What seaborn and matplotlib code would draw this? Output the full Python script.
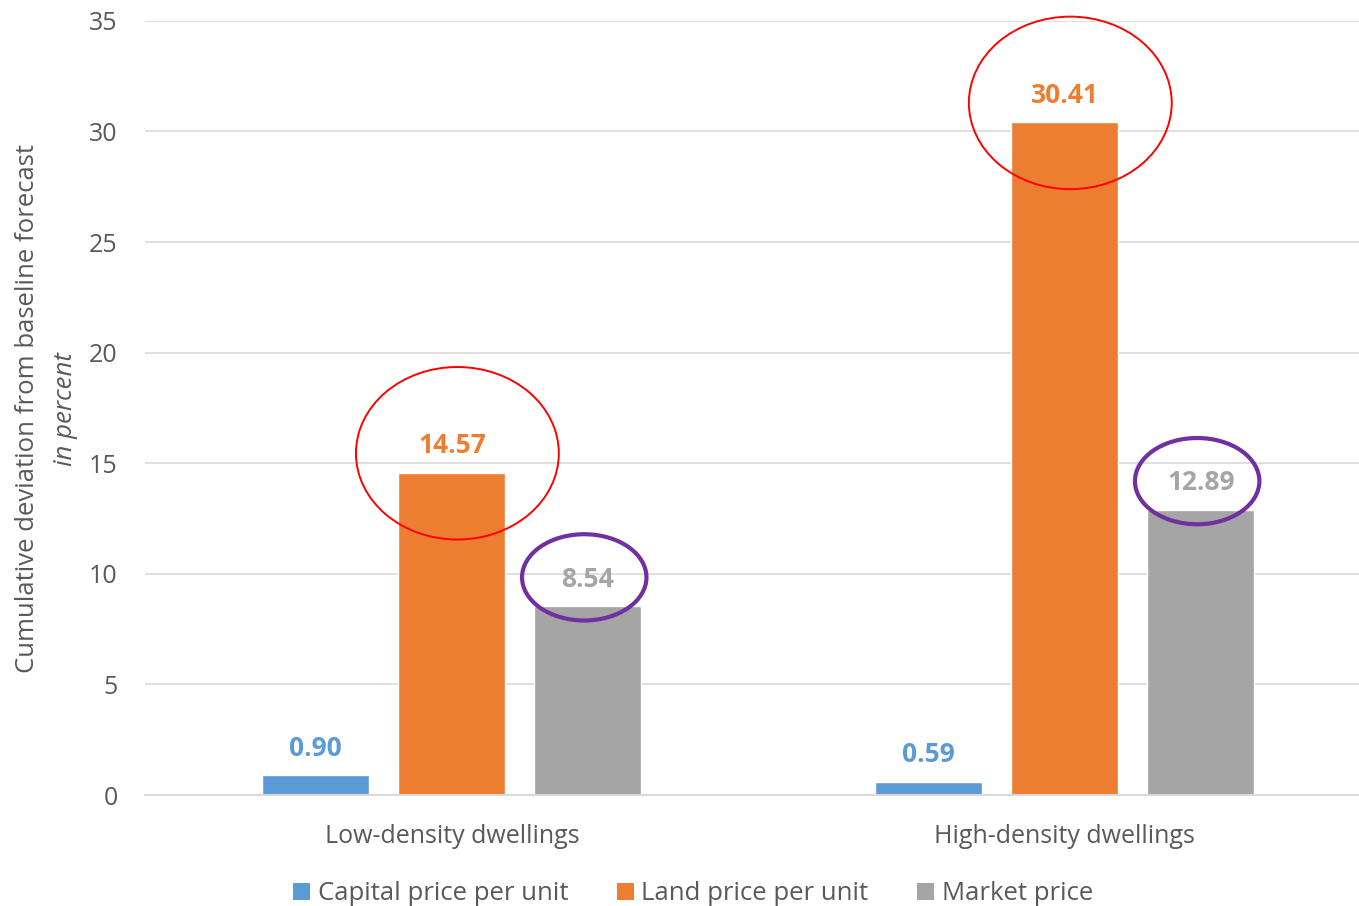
import matplotlib
matplotlib.use("Agg")
import matplotlib.pyplot as plt
from matplotlib.patches import Ellipse, Patch
import seaborn as sns
import pandas as pd

categories = ["Low-density dwellings", "High-density dwellings"]
series = ["Capital price per unit", "Land price per unit", "Market price"]
capital = [0.90, 0.59]
land = [14.57, 30.41]
market = [8.54, 12.89]
y_ticks = [0, 5, 10, 15, 20, 25, 30, 35]

colors = ["#5B9BD5", "#ED7D31", "#A5A5A5"]
text_color = "#595959"
grid_color = "#D9D9D9"

rows = []
for name, vals in zip(series, [capital, land, market]):
    for cat, v in zip(categories, vals):
        rows.append({"category": cat, "series": name, "value": v})
df = pd.DataFrame(rows)

sns.set_theme(style="white")
plt.rcParams["font.family"] = ["Open Sans", "DejaVu Sans"]

fig = plt.figure(figsize=(13.59, 9.06), dpi=100)
ax = fig.add_axes([0.107, 0.1225, 0.902, 0.8545])

sns.barplot(data=df, x="category", y="value", hue="series", order=categories,
            hue_order=series, palette=colors, width=0.666, gap=0.213,
            saturation=1, legend=False, ax=ax, errorbar=None)

ax.set_ylim(0, 35)
ax.set_xlim(-0.5, 1.5)
ax.set_yticks(y_ticks)
ax.yaxis.grid(True, color=grid_color, linewidth=1.2)
ax.set_axisbelow(True)
for s in ["top", "right", "left"]:
    ax.spines[s].set_visible(False)
ax.spines["bottom"].set_color(grid_color)
ax.spines["bottom"].set_linewidth(1.5)
ax.tick_params(axis="both", length=0, labelsize=18, colors=text_color)
ax.tick_params(axis="y", pad=20)
ax.tick_params(axis="x", pad=21)
ax.set_xlabel("")
ax.set_ylabel("")

# value labels above each bar, and highlight rings
ring_specs = {
    "Land price per unit": dict(color="#FF0000", lw=1.4, w=0.331, h=7.8, dy=0.88, dx=0.009),
    "Market price": dict(color="#7030A0", lw=3.0, w=0.203, h=3.9, dy=1.3, dx=-0.006),
}
for container, name, col in zip(ax.containers, series, colors):
    for bar, v in zip(container, df[df.series == name]["value"]):
        cx = bar.get_x() + bar.get_width() / 2
        ax.annotate(f"{v:.2f}", (cx, v), xytext=(0, 19.5), textcoords="offset points",
                    ha="center", va="center", fontsize=19, fontweight="bold", color=col)
        if name in ring_specs:
            r = ring_specs[name]
            ax.add_patch(Ellipse((cx + r["dx"], v + r["dy"]), r["w"], r["h"],
                                 fill=False, edgecolor=r["color"], linewidth=r["lw"],
                                 clip_on=False, zorder=5))

fig.text(0.020, 0.5486, "Cumulative deviation from baseline forecast", rotation=90,
         ha="center", va="center", fontsize=18.5, color=text_color)
fig.text(0.048, 0.5486, "in percent", rotation=90, style="italic",
         ha="center", va="center", fontsize=18.5, color=text_color)

handles = [Patch(facecolor=c, edgecolor="none") for c in colors]
fig.legend(handles, series, loc="lower center", bbox_to_anchor=(0.51, -0.026), ncol=3,
           frameon=False, fontsize=18.5, handlelength=0.65, handleheight=0.65,
           handletextpad=0.3, columnspacing=1.9, labelcolor=text_color)

fig.savefig("out.png", dpi=100)
